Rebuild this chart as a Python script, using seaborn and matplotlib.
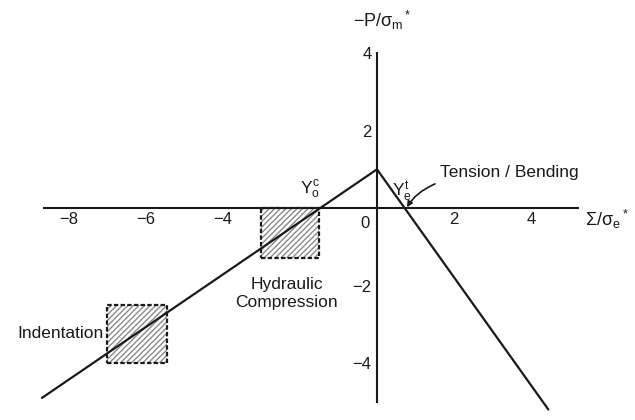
import matplotlib
matplotlib.use("Agg")
import matplotlib.pyplot as plt
import seaborn as sns
import pandas as pd
from matplotlib.patches import Rectangle

# Failure-map line segments (normalised stress coordinates)
compression_x = [-8.7, 0.0]
compression_y = [-4.9, 1.0]
tension_x = [0.0, 4.45]
tension_y = [1.0, -5.2]

# Hatched regions: (x0, x1, y0, y1)
indentation_box = [-7.0, -5.45, -4.0, -2.5]
hydraulic_box = [-3.0, -1.5, -1.3, 0.0]

x_ticks = [-8, -6, -4, -2, 2, 4]
x_tick_labels = ["\u22128", "\u22126", "\u22124", "", "2", "4"]
y_ticks = [-4, -2, 2, 4]
y_tick_labels = ["\u22124", "\u22122", "2", "4"]

sns.set_theme(style="white")
plt.rcParams["font.family"] = ["Liberation Sans", "DejaVu Sans"]
plt.rcParams["mathtext.fontset"] = "custom"
plt.rcParams["mathtext.rm"] = "Liberation Sans"
plt.rcParams["mathtext.it"] = "Liberation Sans"

fig = plt.figure(figsize=(6.35, 4.2), dpi=100)
ax = fig.add_axes([0, 0, 1, 1])
ax.set_xlim(-9.79, 6.70)
ax.set_ylim(-5.47, 5.37)

ink = "#1a1a1a"

segments = pd.concat([
    pd.DataFrame({"x": compression_x, "y": compression_y, "branch": "compression"}),
    pd.DataFrame({"x": tension_x, "y": tension_y, "branch": "tension"}),
])
sns.lineplot(data=segments, x="x", y="y", units="branch", estimator=None,
             color=ink, lw=1.6, sort=False, ax=ax)

# Axes through the origin
for side in ("top", "right"):
    ax.spines[side].set_visible(False)
ax.spines["left"].set_position(("data", 0))
ax.spines["bottom"].set_position(("data", 0))
ax.spines["left"].set_bounds(-5, 4)
ax.spines["bottom"].set_bounds(-8.65, 5.22)
for side in ("left", "bottom"):
    ax.spines[side].set_color(ink)
    ax.spines[side].set_linewidth(1.5)

ax.set_xticks(x_ticks)
ax.set_yticks(y_ticks)
ax.set_xticklabels(x_tick_labels)
ax.set_yticklabels(y_tick_labels)
ax.tick_params(axis="both", direction="in", length=5, width=1.3, color=ink,
               labelsize=12, labelcolor=ink)
ax.tick_params(axis="x", pad=3)
ax.tick_params(axis="y", pad=4)
ax.set_xlabel("")
ax.set_ylabel("")
ax.text(-0.3, -0.2, "0", ha="center", va="top", fontsize=12, color=ink)

# Hatched boxes
for x0, x1, y0, y1 in (indentation_box, hydraulic_box):
    ax.add_patch(Rectangle((x0, y0), x1 - x0, y1 - y0, facecolor="white",
                           edgecolor="#8a8a8a", hatch="//////", lw=0, zorder=1))
    ax.add_patch(Rectangle((x0, y0), x1 - x0, y1 - y0, facecolor="none",
                           edgecolor=ink, lw=1.6, ls=(0, (2, 1)), zorder=3))

# Axis titles
ax.text(0.13, 4.85, r"$-P/\sigma_m{}^*$", ha="center", va="center", fontsize=13, color=ink)
ax.text(5.4, -0.3, r"$\Sigma/\sigma_e{}^*$", ha="left", va="center", fontsize=13, color=ink)

# Region labels
ax.text(-7.1, -3.23, "Indentation", ha="right", va="center", fontsize=12.5, color=ink)
ax.text(-2.34, -2.2, "Hydraulic\nCompression", ha="center", va="center",
        fontsize=12.5, color=ink, linespacing=1.2)
ax.text(-1.74, 0.46, r"$Y_o^c$", ha="center", va="center", fontsize=12.5, color=ink)
ax.text(0.65, 0.41, r"$Y_e^t$", ha="center", va="center", fontsize=12.5, color=ink)
ax.annotate("Tension / Bending", xy=(0.78, 0.02), xytext=(1.64, 0.93),
            ha="left", va="center", fontsize=12.5, color=ink,
            arrowprops=dict(arrowstyle="-|>", color=ink, lw=1.2,
                            shrinkA=2, shrinkB=0, mutation_scale=8,
                            connectionstyle="angle3,angleA=180,angleB=60"))

fig.savefig("out.png", dpi=100)
